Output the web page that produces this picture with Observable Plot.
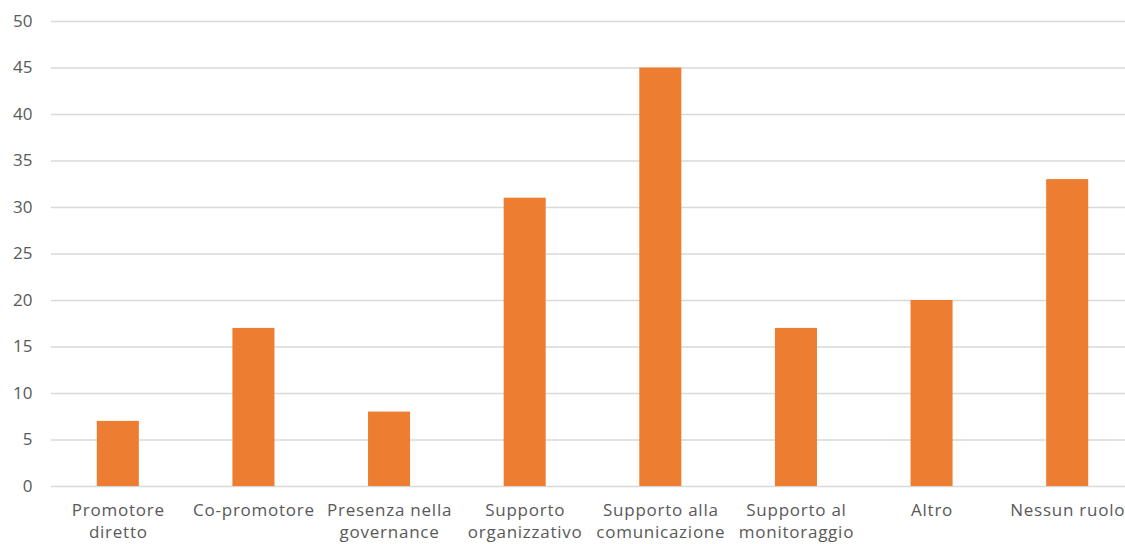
<!DOCTYPE html>
<html><head><meta charset="utf-8">
<script src="https://cdn.jsdelivr.net/npm/d3@7"></script>
<script src="https://cdn.jsdelivr.net/npm/@observablehq/plot@0.6"></script>
<style>
body{margin:0;background:#fff;}
#chart svg{overflow:visible;}
</style>
</head><body><div id="chart"></div>
<script>
const categories = ["Promotore\ndiretto","Co-promotore","Presenza nella\ngovernance","Supporto\norganizzativo","Supporto alla\ncomunicazione","Supporto al\nmonitoraggio","Altro","Nessun ruolo"];
const values = [7,17,8,31,45,17,20,33];
const yTicks = [0,5,10,15,20,25,30,35,40,45,50];

const data = categories.map((c,i)=>({cat:c, v:values[i]}));
const chart = Plot.plot({
  width:1125, height:544,
  marginLeft:51, marginRight:0, marginTop:21, marginBottom:58,
  style:{fontFamily:"'Open Sans', sans-serif", fontSize:"17px", color:"#595959", background:"#fff"},
  x:{domain:categories, range:[50,1135], round:false, paddingInner:0.69, paddingOuter:0.345, label:null},
  y:{domain:[0,50], ticks:yTicks, label:null},
  marks:[
    Plot.ruleY(yTicks,{stroke:"#d9d9d9", strokeWidth:1.3}),
    Plot.barY(data,{x:"cat", y:"v", fill:"#ED7D31"}),
    Plot.axisY({ticks:yTicks, tickSize:0, tickPadding:19, fontSize:17, fill:"#595959", label:null}),
    Plot.axisX({tickSize:0, tickPadding:14, fontSize:17, fill:"#595959", lineHeight:1.3, label:null})
  ]
});
chart.querySelectorAll("g[aria-label='x-axis tick label'] text").forEach(t=>t.style.letterSpacing="0.75px");
document.getElementById("chart").appendChild(chart);
</script></body></html>
